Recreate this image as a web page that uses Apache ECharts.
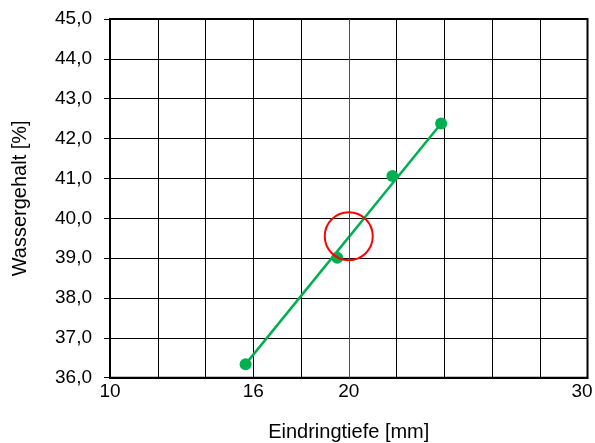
<!DOCTYPE html>
<html><head><meta charset="utf-8">
<script src="https://cdn.jsdelivr.net/npm/echarts@6/dist/echarts.min.js"></script>
<style>html,body{margin:0;padding:0;background:#fff}#c{width:595px;height:443px}</style>
</head><body><div id="c"></div>
<script>
const pointsX = [15.68, 19.52, 21.83, 23.87];
const pointsY = [36.34, 39.01, 41.06, 42.38];
const trendX = [15.68, 23.87];
const trendY = [36.34, 42.38];
const targetX = [20];
const targetY = [39.55];
const xLabels = [10, 16, 20, 30];
const xTitle = 'Eindringtiefe [mm]';
const yTitle = 'Wassergehalt [%]';

const font = 'Liberation Sans, Arial, sans-serif';
const chart = echarts.init(document.getElementById('c'));
chart.setOption({
  animation: false,
  grid: {left: 110, top: 19, right: 7.5, bottom: 65.3, containLabel: false, outerBoundsMode: 'none',
    show: true, borderColor: '#000', borderWidth: 2, backgroundColor: 'transparent'},
  xAxis: {
    type: 'value', min: 10, max: 30, interval: 2,
    name: xTitle, nameLocation: 'middle', nameGap: 45,
    nameTextStyle: {fontFamily: font, fontSize: 20, color: '#000'},
    axisLine: {show: true, lineStyle: {color: '#000', width: 2}},
    axisTick: {show: false},
    axisLabel: {fontFamily: font, fontSize: 19, color: '#000', margin: 5,
      formatter: v => v === 30 ? '{last|' + v + '}' : (xLabels.includes(v) ? String(v) : ''),
      rich: {last: {fontFamily: font, fontSize: 19, color: '#000', padding: [0, 11, 0, 0]}}},
    splitLine: {show: true, lineStyle: {color: '#000', width: 1}}
  },
  yAxis: {
    type: 'value', min: 36, max: 45, interval: 1,
    name: yTitle, nameLocation: 'middle', nameGap: 80, nameRotate: 90,
    nameTextStyle: {fontFamily: font, fontSize: 20, color: '#000'},
    axisLine: {show: true, lineStyle: {color: '#000', width: 2}},
    axisTick: {show: true, inside: false, length: 6, lineStyle: {color: '#000', width: 1}},
    axisLabel: {fontFamily: font, fontSize: 19, color: '#000', margin: 18,
      formatter: v => v.toFixed(1).replace('.', ',')},
    splitLine: {show: true, lineStyle: {color: '#000', width: 1}}
  },
  series: [
    {
      type: 'line', data: trendX.map((x, i) => [x, trendY[i]]),
      symbol: 'none', lineStyle: {color: '#00b050', width: 2.5}, z: 3,
      markLine: {
        silent: true, symbol: 'none', label: {show: false},
        lineStyle: {color: '#ff0000', width: 1, type: 'solid'},
        data: [{xAxis: targetX[0]}]
      }
    },
    {
      type: 'scatter', data: pointsX.map((x, i) => [x, pointsY[i]]),
      symbol: 'circle', symbolSize: 12, itemStyle: {color: '#00b050', opacity: 1}, z: 4
    },
    {
      type: 'scatter', data: targetX.map((x, i) => [x, targetY[i]]),
      symbol: 'circle', symbolSize: 48,
      itemStyle: {color: 'rgba(0,0,0,0)', borderColor: '#ff0000', borderWidth: 2, opacity: 1}, z: 5
    }
  ]
});
</script></body></html>
